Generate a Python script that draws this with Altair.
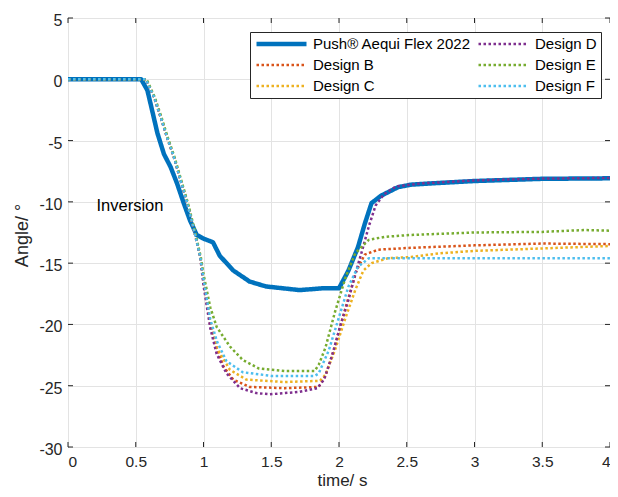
import altair as alt
import pandas as pd

# ---------------- data ----------------
series_names = ["Push® Aequi Flex 2022", "Design B", "Design C",
                "Design D", "Design E", "Design F"]
line_colors = ["#0072BD", "#D95319", "#EDB120", "#7E2F8E", "#77AC30", "#4DBEEE"]
line_dashes = [[1, 0], [2.5, 2.5], [2.5, 2.5], [2.5, 2.5], [2.5, 2.5], [2.5, 2.5]]
line_widths = [4.5, 2.5, 2.5, 2.5, 2.5, 2.5]

push_t = [0.0, 0.25, 0.54, 0.586, 0.62, 0.66, 0.708, 0.757, 0.805, 0.854, 0.90, 0.95,
          1.0, 1.07, 1.12, 1.22, 1.34, 1.46, 1.71, 1.88, 2.0, 2.07, 2.14, 2.19, 2.24,
          2.31, 2.436, 2.53, 2.67, 3.0, 3.5, 4.0]
push_y = [0.0, 0.0, 0.0, -0.9, -2.5, -4.4, -6.1, -7.15, -8.5, -10.1, -11.5, -12.7,
          -13.0, -13.3, -14.4, -15.6, -16.5, -16.9, -17.2, -17.05, -17.05, -15.6, -13.7,
          -11.8, -10.1, -9.5, -8.8, -8.6, -8.5, -8.3, -8.12, -8.08]

b_t = [0.0, 0.3, 0.575, 0.635, 0.684, 0.73, 0.78, 0.83, 0.88, 0.93, 0.976, 1.0, 1.05,
       1.1, 1.146, 1.22, 1.34, 1.6, 1.85, 1.90, 1.93, 1.97, 2.0, 2.07, 2.13, 2.19, 2.29,
       2.53, 3.0, 3.5, 4.0]
b_y = [0.0, 0.0, 0.0, -1.45, -3.1, -4.7, -6.3, -8.2, -10.1, -12.3, -14.5, -16.5, -20.0,
       -22.0, -23.4, -24.5, -25.1, -25.2, -25.1, -24.2, -23.2, -21.8, -20.5, -17.8, -15.6,
       -14.3, -13.9, -13.75, -13.55, -13.4, -13.45]

c_t = [0.0, 0.3, 0.575, 0.635, 0.684, 0.73, 0.78, 0.83, 0.88, 0.93, 0.976, 1.0, 1.05,
       1.097, 1.195, 1.316, 1.6, 1.86, 1.9, 1.97, 2.05, 2.12, 2.18, 2.24, 2.36, 2.53,
       2.74, 3.0, 3.5, 4.0]
c_y = [0.0, 0.0, 0.0, -1.45, -3.1, -4.7, -6.3, -8.2, -10.1, -12.3, -14.5, -16.3, -19.8,
       -21.9, -23.7, -24.5, -24.7, -24.6, -24.1, -22.1, -19.4, -17.2, -15.6, -15.0,
       -14.6, -14.5, -14.2, -14.0, -13.8, -13.6]

d_t = [0.0, 0.3, 0.575, 0.635, 0.684, 0.73, 0.78, 0.83, 0.88, 0.93, 0.976, 1.0, 1.05,
       1.097, 1.17, 1.27, 1.39, 1.49, 1.71, 1.84, 1.89, 1.95, 2.01, 2.07, 2.12, 2.17,
       2.22, 2.27, 2.33, 2.42, 2.6, 3.0, 3.5, 4.0]
d_y = [0.0, 0.0, 0.0, -1.45, -3.1, -4.7, -6.3, -8.2, -10.1, -12.3, -14.5, -16.8, -20.3,
       -22.4, -24.0, -25.2, -25.6, -25.7, -25.5, -25.2, -24.5, -22.5, -20.1, -18.0, -15.9,
       -14.0, -12.0, -10.3, -9.4, -8.75, -8.5, -8.25, -8.1, -8.05]

e_t = [0.0, 0.3, 0.58, 0.64, 0.69, 0.735, 0.785, 0.835, 0.885, 0.935, 0.98, 1.0, 1.05,
       1.097, 1.195, 1.29, 1.41, 1.6, 1.82, 1.85, 1.9, 1.97, 2.05, 2.12, 2.22, 2.34,
       2.53, 3.0, 3.5, 3.81, 4.0]
e_y = [0.0, 0.0, 0.0, -1.45, -3.1, -4.7, -6.3, -8.2, -10.1, -12.3, -14.5, -15.9, -18.6,
       -20.2, -21.8, -22.9, -23.6, -23.8, -23.8, -23.3, -21.9, -19.0, -16.1, -14.2,
       -13.1, -12.85, -12.7, -12.5, -12.45, -12.3, -12.35]

f_t = [0.0, 0.3, 0.575, 0.635, 0.684, 0.73, 0.78, 0.83, 0.88, 0.93, 0.976, 1.0, 1.05,
       1.1, 1.17, 1.29, 1.5, 1.82, 1.85, 1.925, 2.0, 2.07, 2.14, 2.22, 2.5, 3.0, 3.5, 4.0]
f_y = [0.0, 0.0, 0.0, -1.45, -3.1, -4.7, -6.3, -8.2, -10.1, -12.3, -14.5, -16.3, -19.6,
       -21.4, -23.0, -23.9, -24.2, -24.2, -24.0, -22.1, -19.4, -16.9, -15.3, -14.6,
       -14.6, -14.6, -14.6, -14.6]

x_ticks = [0, 0.5, 1, 1.5, 2, 2.5, 3, 3.5, 4]
y_ticks = [-30, -25, -20, -15, -10, -5, 0, 5]

annot_t = [0.21]
annot_y = [-10.3]
annot_text = ["Inversion"]

# ---------------- tables ----------------
all_t = [push_t, b_t, c_t, d_t, e_t, f_t]
all_y = [push_y, b_y, c_y, d_y, e_y, f_y]
rows = []
for name, ts, ys in zip(series_names, all_t, all_y):
    for t, y in zip(ts, ys):
        rows.append({"series": name, "time": t, "angle": y})
df = pd.DataFrame(rows)
df_push = df[df["series"] == series_names[0]]
df_designs = df[df["series"] != series_names[0]]

xtick_df = pd.DataFrame({"time": x_ticks})
ytick_df = pd.DataFrame({"angle": y_ticks})
annot_df = pd.DataFrame({"time": annot_t, "angle": annot_y, "label": annot_text})

W, H = 542, 429
FONT = "Liberation Sans"
TXT = "#262626"

x_axis = alt.Axis(values=x_ticks, title="time/ s", labelExpr="'' + datum.value",
                  labelPadding=19.5, labelBaseline="alphabetic", labelFontSize=15.5,
                  titleX=274, titleY=38.2, titleAlign="center", titleBaseline="alphabetic",
                  titleFontSize=17)
y_axis = alt.Axis(values=y_ticks, title="Angle/ °", labelExpr="'' + datum.value",
                  labelPadding=6, labelBaseline="alphabetic", labelOffset=7.5, labelFontSize=16,
                  titleX=-46, titleY=217, titleAlign="center", titleBaseline="middle",
                  titleAngle=270, titleFontSize=18)
x_enc = alt.X("time:Q", scale=alt.Scale(domain=[0, 4], nice=False, zero=False), axis=x_axis)
y_enc = alt.Y("angle:Q", scale=alt.Scale(domain=[-30, 5], nice=False, zero=False), axis=y_axis)

leg = alt.Legend(title=None, orient="none", legendX=182, legendY=14, columns=2,
                 symbolType="stroke", symbolSize=2500, clipHeight=16,
                 labelFont=FONT, labelFontSize=15, labelColor="#000000", labelOffset=4,
                 labelLimit=400, strokeColor=TXT, fillColor="white", padding=4,
                 rowPadding=5, columnPadding=5, cornerRadius=0)

color_enc = alt.Color("series:N", scale=alt.Scale(domain=series_names, range=line_colors), legend=leg)
dash_enc = alt.StrokeDash("series:N", scale=alt.Scale(domain=series_names, range=line_dashes), legend=leg)
width_enc = alt.StrokeWidth("series:N", scale=alt.Scale(type="ordinal", domain=series_names, range=line_widths), legend=leg)

push_layer = alt.Chart(df_push).mark_line(strokeCap="butt", strokeJoin="round").encode(
    x=x_enc, y=y_enc, color=color_enc, strokeDash=dash_enc, strokeWidth=width_enc)
design_layer = alt.Chart(df_designs).mark_line(strokeCap="butt", strokeJoin="round").encode(
    x=x_enc, y=y_enc, color=color_enc, strokeDash=dash_enc, strokeWidth=width_enc)

tick_len = 5
xt_bottom = alt.Chart(xtick_df).mark_rule(color=TXT, strokeWidth=1).encode(
    x=x_enc, y=alt.value(H), y2=alt.value(H - tick_len))
xt_top = alt.Chart(xtick_df).mark_rule(color=TXT, strokeWidth=1).encode(
    x=x_enc, y=alt.value(0), y2=alt.value(tick_len))
yt_left = alt.Chart(ytick_df).mark_rule(color=TXT, strokeWidth=1).encode(
    y=y_enc, x=alt.value(0), x2=alt.value(tick_len))
yt_right = alt.Chart(ytick_df).mark_rule(color=TXT, strokeWidth=1).encode(
    y=y_enc, x=alt.value(W), x2=alt.value(W - tick_len))

annot = alt.Chart(annot_df).mark_text(align="left", baseline="middle", font=FONT,
                                       fontSize=16.5, color="#000000").encode(
    x=x_enc, y=y_enc, text="label:N")

chart = alt.layer(xt_bottom, xt_top, yt_left, yt_right, push_layer, design_layer, annot).properties(
    width=W, height=H,
    autosize=alt.AutoSizeParams(type="none"),
    padding={"left": 60, "top": 10, "right": 0, "bottom": 42},
).configure(font=FONT, background="white").configure_view(
    stroke=TXT, strokeWidth=1
).configure_axis(
    domain=False, ticks=False, tickSize=0, grid=True, gridColor="#e3e3e3", gridWidth=1,
    labelFont=FONT, labelColor=TXT,
    titleFont=FONT, titleFontWeight="normal", titleColor=TXT,
)

chart.save("out.html", embed_options={"renderer": "svg", "actions": False})
